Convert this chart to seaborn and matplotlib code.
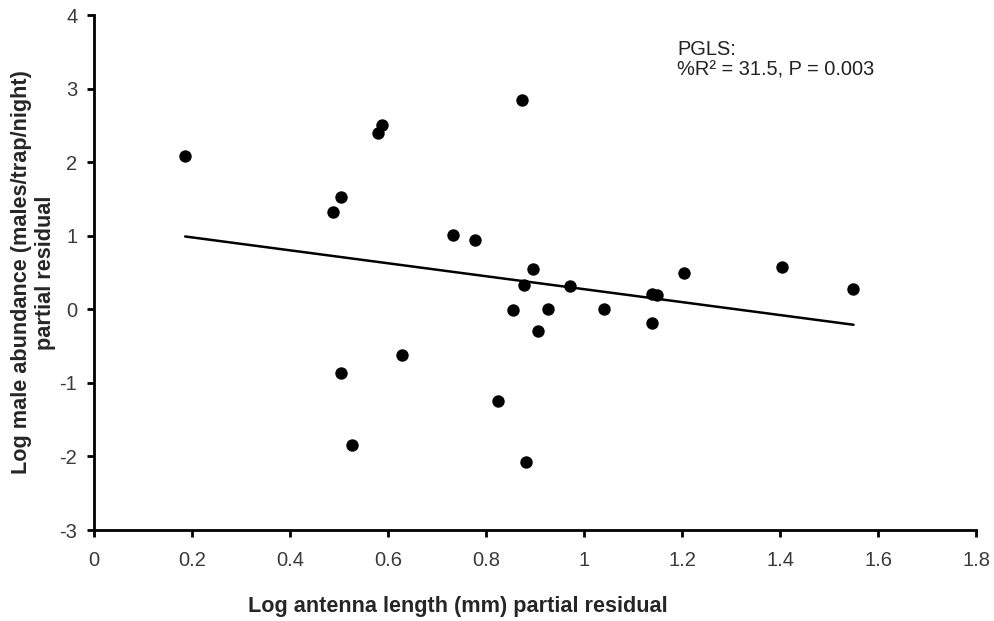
import numpy as np
import pandas as pd
import seaborn as sns
import matplotlib.pyplot as plt

# partial residuals
antenna_resid = [0.186, 0.488, 0.504, 0.579, 0.588, 0.732, 0.778,
                 0.873, 0.895, 0.878, 0.972, 1.138, 1.148, 1.205, 1.405, 1.548,
                 0.856, 0.926, 1.040, 1.138, 0.906, 0.825, 0.881,
                 0.504, 0.629, 0.526]
abundance_resid = [2.09, 1.32, 1.53, 2.39, 2.51, 1.01, 0.94,
                   2.85, 0.55, 0.33, 0.32, 0.21, 0.19, 0.49, 0.58, 0.28,
                   -0.01, 0.01, 0.01, -0.18, -0.30, -1.25, -2.08,
                   -0.87, -0.62, -1.84]

# PGLS fit line end points
fit_x = [0.186, 1.55]
fit_y = [0.99, -0.21]

x_ticks = [0, 0.2, 0.4, 0.6, 0.8, 1, 1.2, 1.4, 1.6, 1.8]
x_tick_labels = ["0", "0.2", "0.4", "0.6", "0.8", "1", "1.2", "1.4", "1.6", "1.8"]
y_ticks = [-3, -2, -1, 0, 1, 2, 3, 4]
y_tick_labels = ["-3", "-2", "-1", "0", "1", "2", "3", "4"]


def plot_residuals():
    sns.set_style("ticks")
    plt.rcParams['font.family'] = ['Liberation Sans', 'DejaVu Sans']
    plt.rcParams['axes.unicode_minus'] = False

    fig = plt.figure(figsize=(9.94, 6.21), dpi=100)
    ax = fig.add_axes([0.0946, 0.1465, 0.8873, 0.8293])

    pts = pd.DataFrame({'x': antenna_resid, 'y': abundance_resid})
    fit = pd.DataFrame({'x': fit_x, 'y': fit_y})

    sns.lineplot(data=fit, x='x', y='y', color='black', linewidth=1.8, ax=ax)
    sns.scatterplot(data=pts, x='x', y='y', color='black', s=80,
                    edgecolor='black', linewidth=0, ax=ax, zorder=3)

    ax.set_xlim(0, 1.8)
    ax.set_ylim(-3, 4)
    ax.set_xticks(x_ticks)
    ax.set_xticklabels(x_tick_labels)
    ax.set_yticks(y_ticks)
    ax.set_yticklabels(y_tick_labels)

    sns.despine(ax=ax)
    for side in ['left', 'bottom']:
        ax.spines[side].set_linewidth(2)
        ax.spines[side].set_color('black')
    ax.tick_params(axis='both', direction='out', length=5, width=2,
                   color='black', labelsize=14.5, labelcolor='#3a3a3a')
    ax.tick_params(axis='x', pad=10)
    ax.tick_params(axis='y', pad=7)

    ax.set_xlabel("Log antenna length (mm) partial residual",
                  fontsize=15.6, fontweight='bold', va='top')
    ax.xaxis.set_label_coords(0.413, -0.128)
    ax.set_ylabel("Log male abundance (males/trap/night)\npartial residual",
                  fontsize=15.6, fontweight='bold', multialignment='center',
                  linespacing=1.2)
    ax.yaxis.set_label_coords(-0.043, 0.5)

    ax.text(0.661, 0.952, "PGLS:\n%R² = 31.5, P = 0.003", transform=ax.transAxes,
            fontsize=14.4, color='#222222', va='top', ha='left', linespacing=1.1)

    fig.savefig('out.png', dpi=100)


if __name__ == "__main__":
    plot_residuals()
